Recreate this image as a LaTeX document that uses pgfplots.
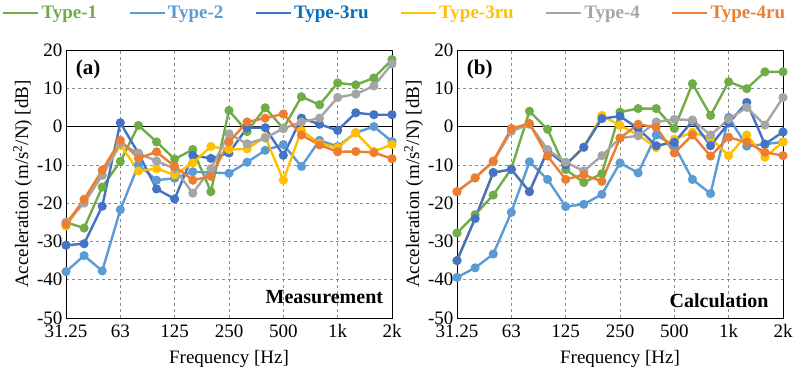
\documentclass[border=0pt]{standalone}
\usepackage{pgfplots}
\pgfplotsset{compat=1.18}
\usepackage{fontspec}
\setmainfont{Liberation Serif}[Ligatures=TeX]
\definecolor{cA}{HTML}{70AD47}
\definecolor{cB}{HTML}{5B9BD5}
\definecolor{cC}{HTML}{4472C4}
\definecolor{cD}{HTML}{FFC000}
\definecolor{cE}{HTML}{A5A5A5}
\definecolor{cF}{HTML}{ED7D31}
\definecolor{cCt}{HTML}{0070C0}

% panel (a) measurement
\pgfplotstableread{
i t1 t2 t3 t3y t4 t4ru
0 -25 -37.9 -31 -26 -25 -25.5
1 -26.5 -33.7 -30.6 -19.5 -20 -19
2 -15.8 -37.7 -20.8 -12.7 -12.7 -11.4
3 -9.1 -21.7 1 -4.8 -4.4 -3.6
4 0.3 -10 -7 -11.6 -7 -8.3
5 -4 -14 -16.3 -11 -9 -6.6
6 -8.5 -13.5 -18.9 -12.6 -11 -10.4
7 -6 -11.8 -7.5 -9.5 -17.4 -14
8 -17 -12 -8.3 -5.2 -11 -13
9 4.2 -12.2 -6.9 -6 -1.9 -4
10 -1.3 -9.3 -0.3 -5.8 -4.5 1.2
11 4.9 -6.2 -0.3 -2.7 -3 2.2
12 -0.5 -4.7 -7.5 -14 -0.5 3.3
13 7.8 -10.4 2.2 -1 1.2 -2.2
14 5.7 -3.6 0.6 -4.4 2.2 -4.8
15 11.4 -5.2 -1 -5.5 7.6 -6.6
16 10.9 -1.6 3.6 -1.6 8.5 -6.5
17 12.7 0 3.1 -6.5 10.6 -6.8
18 17.5 -3.9 3.1 -4.7 16.4 -8.4
}\measdata

% panel (b) calculation
\pgfplotstableread{
i t1 t2 t3 t3y t4 t4ru
0 -27.8 -39.4 -35 -35 -17 -17
1 -23 -36.9 -24 -24 -13.4 -13.4
2 -17.9 -33.3 -12 -12 -9.2 -9
3 -11 -22.4 -11.2 -11.2 -1.2 -0.5
4 4 -9.2 -17 -17 0.6 0.8
5 -0.7 -13.8 -6.3 -6.3 -6 -7.7
6 -11.2 -20.9 -10 -10 -9.3 -13.8
7 -14.6 -20.3 -5.4 -5.4 -11.6 -12.6
8 -12.3 -17.7 2.1 2.9 -7.6 -14.3
9 3.8 -9.5 2.7 0.3 -3 -3
10 4.7 -12.1 -0.5 -2.2 -2.4 0.6
11 4.7 -2.2 -5 -5.5 1.2 -0.2
12 -0.5 -5 -4.1 -3.3 1.9 -6.9
13 11.2 -13.8 1.4 -1.5 1.7 -2.2
14 2.9 -17.5 -5 -3 -2.2 -7.7
15 11.7 2.4 0.9 -7.6 1.9 -2.8
16 9.9 -5.1 6.3 -2.2 5 -4.1
17 14.3 -4.6 -4.6 -8 0.4 -6.7
18 14.3 -4 -1.4 -4 7.6 -7.6
}\calcdata

\pgfplotsset{
  panel/.style={
    width=326pt, height=268pt, scale only axis,
    xmin=0, xmax=18, ymin=-50, ymax=20,
    xtick={0,3,...,18},
    xticklabels={31.25,63,125,250,500,1k,2k},
    ytick={-50,-40,...,20},
    grid=major,
    major grid style={dashed, black!45, line width=0.6pt},
    axis line style={black, line width=0.9pt},
    tick style={draw=none},
    /pgf/number format/assume math mode=true,
    tick label style={font=\rmfamily\fontsize{19}{19}\selectfont},
    label style={font=\rmfamily\fontsize{19}{19}\selectfont},
    xlabel={Frequency [Hz]},
    ylabel={Acceleration (m/s\textsuperscript{2}/N) [dB]},
    xlabel style={yshift=-6pt},
    ylabel style={yshift=-2pt},
    xticklabel style={yshift=-3pt},
    extra y ticks={0},
    extra y tick labels={},
    extra y tick style={grid=major, major grid style={solid, black, line width=0.9pt}},
    every axis plot/.append style={line width=2.4pt, mark=*, mark size=3.3pt, mark options={solid}},
    legend image code/.code={\draw[#1, line width=2.6pt] (0pt,0pt) -- (35pt,0pt);},
  }
}

\begin{document}
\begin{tikzpicture}
\useasboundingbox (0pt,0pt) rectangle (793pt,367pt);

\begin{axis}[panel, at={(66pt,49pt)}, anchor=south west,
  legend columns=6,
  legend style={at={(1.008,1.138)}, anchor=center, draw=none, fill=none,
    font=\rmfamily\bfseries\fontsize{19}{19}\selectfont,
    /tikz/every even column/.append style={column sep=29pt},
    inner sep=0pt}]
\addplot[cA] table[x=i, y=t1] {\measdata};
\addlegendentry{\textcolor{cA}{Type-1}}
\addplot[cB] table[x=i, y=t2] {\measdata};
\addlegendentry{\textcolor{cB}{Type-2}}
\addplot[cC] table[x=i, y=t3] {\measdata};
\addlegendentry{\textcolor{cCt}{Type-3ru}}
\addplot[cD] table[x=i, y=t3y] {\measdata};
\addlegendentry{\textcolor{cD}{Type-3ru}}
\addplot[cE] table[x=i, y=t4] {\measdata};
\addlegendentry{\textcolor{cE}{Type-4}}
\addplot[cF] table[x=i, y=t4ru] {\measdata};
\addlegendentry{\textcolor{cF}{Type-4ru}}
\node[font=\bfseries\fontsize{21}{21}\selectfont, anchor=west] at (axis cs:0.35,15) {(a)};
\node[font=\bfseries\fontsize{20}{20}\selectfont, anchor=east] at (axis cs:17.7,-44.5) {Measurement};
\end{axis}

\begin{axis}[panel, at={(457pt,49pt)}, anchor=south west]
\addplot[cA] table[x=i, y=t1] {\calcdata};
\addplot[cB] table[x=i, y=t2] {\calcdata};
\addplot[cD] table[x=i, y=t3y] {\calcdata};
\addplot[cC] table[x=i, y=t3] {\calcdata};
\addplot[cE] table[x=i, y=t4] {\calcdata};
\addplot[cF] table[x=i, y=t4ru] {\calcdata};
\node[font=\bfseries\fontsize{21}{21}\selectfont, anchor=west] at (axis cs:0.35,15) {(b)};
\node[font=\bfseries\fontsize{20}{20}\selectfont, anchor=east] at (axis cs:17.4,-45.5) {Calculation};
\end{axis}
\end{tikzpicture}
\end{document}
